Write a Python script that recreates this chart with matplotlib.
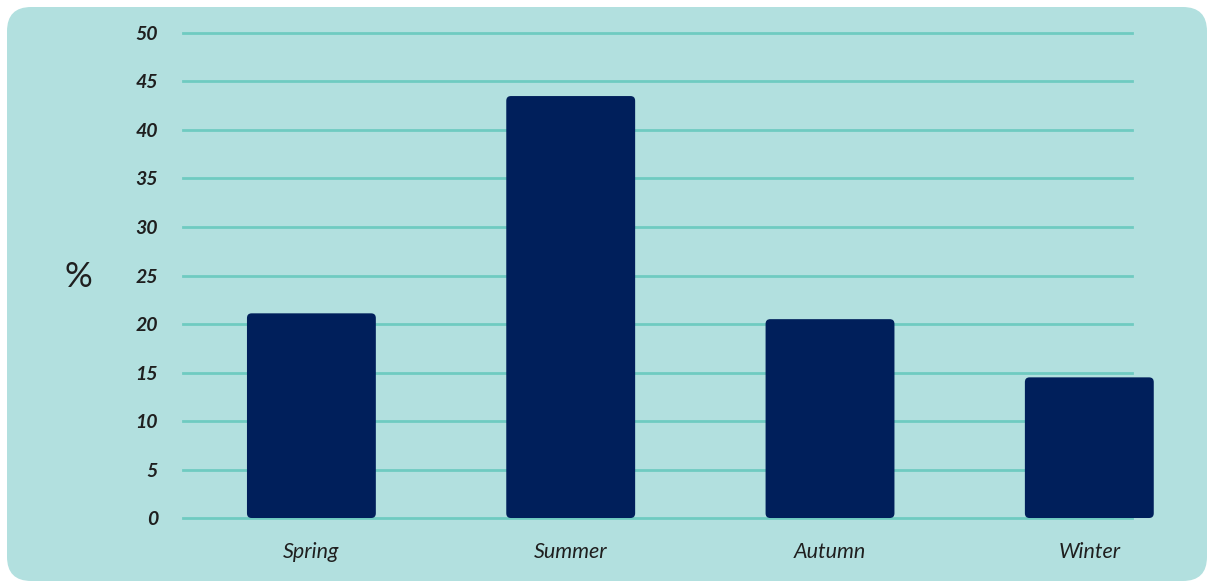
import matplotlib.pyplot as plt
from matplotlib.patches import FancyBboxPatch

seasons = ["Spring", "Summer", "Autumn", "Winter"]
percent = [21.1, 43.5, 20.5, 14.5]
y_ticks = [0, 5, 10, 15, 20, 25, 30, 35, 40, 45, 50]

BG = "#b2e0df"
GRID = "#6fcbc1"
BAR = "#001f5b"
TEXT = "#1f1f1f"

plt.rcParams["font.family"] = ["Lato", "DejaVu Sans"]

fig = plt.figure(figsize=(12.09, 5.84), dpi=100)
fig.patch.set_facecolor("white")

# rounded card behind the chart
card = FancyBboxPatch((7 / 1209, 3 / 584), 1200 / 1209, 574 / 584,
                      boxstyle="round,pad=0,rounding_size=0.02",
                      mutation_aspect=1209 / 584,
                      transform=fig.transFigure, facecolor=BG, edgecolor="none",
                      zorder=-10)
fig.patches.append(card)

ax = fig.add_axes([0.1514, 0.113, 0.785, 0.8305])
ax.set_facecolor("none")
ax.set_zorder(1)

x = list(range(len(seasons)))
bars = ax.bar(x, percent, width=0.497, color=BAR, zorder=3)

# swap the plain rectangles for ones with slightly rounded corners
for rect in bars:
    rect.set_visible(False)
    rb = FancyBboxPatch((rect.get_x(), rect.get_y()), rect.get_width(), rect.get_height(),
                        boxstyle="round,pad=0,rounding_size=0.018",
                        mutation_aspect=27,
                        facecolor=BAR, edgecolor="none", zorder=3, clip_on=False)
    ax.add_patch(rb)

ax.set_xlim(-0.495, 3.165)
ax.set_ylim(0, 50)
ax.set_yticks(y_ticks)
ax.set_yticklabels([str(t) for t in y_ticks], fontsize=14, fontweight="bold",
                   fontstyle="italic", color=TEXT)
ax.set_xticks(x)
ax.set_xticklabels(seasons, fontsize=15.5, fontstyle="italic", color=TEXT)
ax.tick_params(axis="both", length=0)
ax.tick_params(axis="y", pad=18)
ax.tick_params(axis="x", pad=17)

ax.grid(axis="y", color=GRID, linewidth=2, zorder=1)
for gl in ax.get_ygridlines():
    gl.set_clip_on(False)
ax.set_axisbelow(True)
for s in ax.spines.values():
    s.set_visible(False)

fig.text(78 / 1209, 1 - 277 / 584, "%", fontsize=25, color=TEXT,
         ha="center", va="center")

fig.savefig("out.png", dpi=100, facecolor="white")
